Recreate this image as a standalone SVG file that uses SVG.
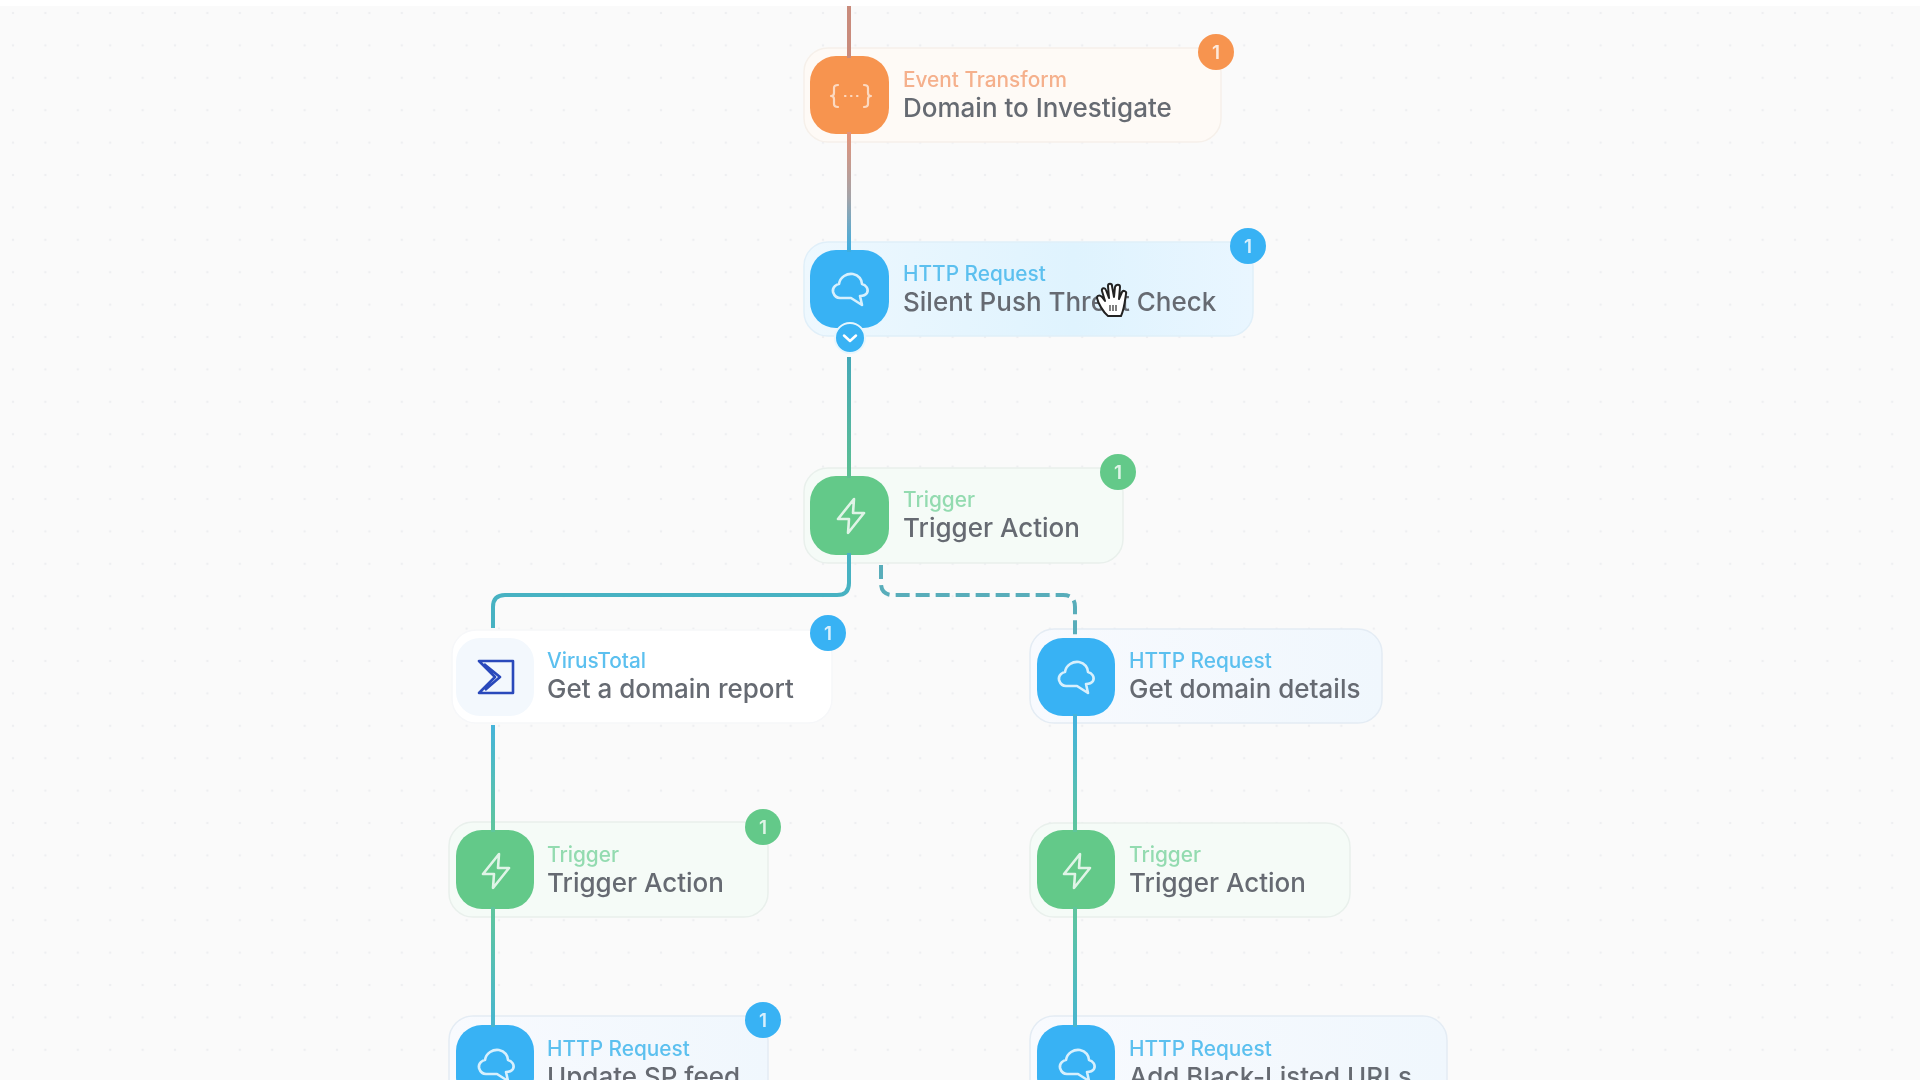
<svg xmlns="http://www.w3.org/2000/svg" xmlns:xlink="http://www.w3.org/1999/xlink" width="1920" height="1080" viewBox="0 0 1920 1080">
<defs>
<style>
.card{stroke-width:1.5}
.ic{stroke:#fff;fill:none;stroke-width:2.6;stroke-linejoin:round;stroke-linecap:round;opacity:.8}
.lbl{font:500 20.8px Inter,"Liberation Sans",sans-serif}
.ttl{font:500 26px Inter,"Liberation Sans",sans-serif;fill:#666b72}
.bt{font:600 19px Inter,"Liberation Sans",sans-serif;fill:#fff;text-anchor:middle;opacity:.8}
.ln{fill:none;stroke-width:4;stroke-linecap:butt}
.blue{fill:#38b2f4}.green{fill:#63c989}.orange{fill:#f7944f}
.lb{fill:#5cc0ef}.lg{fill:#93dbb0}.lo{fill:#f5b08c}
.cb{fill:#f2f9fe;stroke:#e6eff6}.cg{fill:#f5fbf7;stroke:#e9f0ec}.co{fill:#fefaf6;stroke:#f6f0ea}
</style>
<pattern id="dots" x="13" y="13" width="32.4" height="32.4" patternUnits="userSpaceOnUse"><circle cx="0" cy="0" r="1.3" fill="#eeeff1"/><circle cx="32.4" cy="0" r="1.3" fill="#eeeff1"/><circle cx="0" cy="32.4" r="1.3" fill="#eeeff1"/><circle cx="32.4" cy="32.4" r="1.3" fill="#eeeff1"/></pattern>
<linearGradient id="g1" gradientUnits="userSpaceOnUse" x1="0" y1="134" x2="0" y2="250"><stop offset="0" stop-color="#e2937a"/><stop offset=".55" stop-color="#a3a3a8"/><stop offset="1" stop-color="#3eaee0"/></linearGradient>
<linearGradient id="g2" gradientUnits="userSpaceOnUse" x1="0" y1="356" x2="0" y2="476"><stop offset="0" stop-color="#44a8b8"/><stop offset="1" stop-color="#5cbf92"/></linearGradient>
<linearGradient id="g3" gradientUnits="userSpaceOnUse" x1="0" y1="720" x2="0" y2="832"><stop offset="0" stop-color="#44b3dc"/><stop offset="1" stop-color="#5fc69c"/></linearGradient>
<linearGradient id="g4" gradientUnits="userSpaceOnUse" x1="0" y1="905" x2="0" y2="1026"><stop offset="0" stop-color="#5fc69c"/><stop offset="1" stop-color="#48b6cf"/></linearGradient>
<linearGradient id="c2" x1="0" y1="0" x2="1" y2="0"><stop offset="0" stop-color="#eef8fe"/><stop offset=".6" stop-color="#dff3fe"/><stop offset="1" stop-color="#e9f6ff"/></linearGradient>
<linearGradient id="c3" x1="0" y1="0" x2="1" y2="0"><stop offset="0" stop-color="#f8fafe"/><stop offset="1" stop-color="#f0f7fd"/></linearGradient>
<g id="cloud"><path class="ic" d="M-17,3C-18,-2-13,-5-11,-5C-10,-12-3,-16 3,-15C9,-14 12,-9 12,-5C16,-4 19,0 17,4C15,7 12,7 10,7L12,16L1,9L-10,9C-14,9-16,6-17,3Z"/></g>
<g id="bolt"><path class="ic" d="M3,-17L-13,3L-2,3L-3,17L13,-3L2,-3Z"/></g>
<filter id="soft" x="0" y="0" width="100%" height="100%"><feGaussianBlur stdDeviation="0.7"/></filter>
</defs>
<g filter="url(#soft)">
<rect width="1920" height="1080" fill="#fafafa"/>
<rect width="1920" height="1080" fill="url(#dots)"/>
<rect width="1920" height="6" fill="#ffffff"/>
<g id="node-event-transform">
<rect class="card co" x="804" y="48" width="417" height="94" rx="24"/>
<rect class="orange" x="810" y="56" width="79" height="78" rx="26"/>
<g class="ic" style="stroke-width:2.2;opacity:.65"><path d="M838,85Q834,85 834,88V93Q834,96 831,96Q834,96 834,99V104Q834,107 838,107"/><path d="M864,85Q868,85 868,88V93Q868,96 871,96Q868,96 868,99V104Q868,107 864,107"/><path d="M845,96h.5M851,96h.5M857,96h.5"/></g>
<text class="lbl lo" x="903" y="87">Event Transform</text>
<text class="ttl" x="903" y="117">Domain to Investigate</text>
<circle class="orange" cx="1216" cy="52" r="18"/><text class="bt" x="1216" y="59">1</text>
</g>
<g id="node-silent-push">
<rect class="card" x="804" y="242" width="449" height="94" rx="24" fill="url(#c2)" stroke="#e0eff9"/>
<rect class="blue" x="810" y="250" width="79" height="78" rx="26"/>
<use href="#cloud" x="850" y="289"/>
<text class="lbl lb" x="903" y="281">HTTP Request</text>
<text class="ttl" x="903" y="311">Silent Push Threat Check</text>
<circle class="blue" cx="1248" cy="246" r="18"/><text class="bt" x="1248" y="253">1</text>
</g>
<g id="node-trigger-1">
<rect class="card cg" x="804" y="468" width="319" height="95" rx="24"/>
<rect class="green" x="810" y="476" width="79" height="79" rx="26"/>
<use href="#bolt" x="851" y="516"/>
<text class="lbl lg" x="903" y="507">Trigger</text>
<text class="ttl" x="903" y="537">Trigger Action</text>
<circle class="green" cx="1118" cy="472" r="18"/><text class="bt" x="1118" y="479">1</text>
</g>
<g id="node-virustotal">
<rect class="card" x="452" y="630" width="380" height="93" rx="24" fill="#fff" stroke="#f6f7f9"/>
<rect x="456" y="638" width="78" height="78" rx="24" fill="#f3f8fd"/>
<path d="M479,661H513V693H479L495,677ZM484,664L500,677L485,690" fill="none" stroke="#2a49bb" stroke-width="2.600" stroke-linejoin="round"/>
<text class="lbl lb" x="547" y="668">VirusTotal</text>
<text class="ttl" x="547" y="698">Get a domain report</text>
<circle class="blue" cx="828" cy="633" r="18"/><text class="bt" x="828" y="640">1</text>
</g>
<g id="node-get-domain">
<rect class="card" x="1030" y="629" width="352" height="94" rx="24" fill="url(#c3)" stroke="#e4ecf4"/>
<rect class="blue" x="1037" y="638" width="78" height="78" rx="26"/>
<use href="#cloud" x="1076" y="677"/>
<text class="lbl lb" x="1129" y="668">HTTP Request</text>
<text class="ttl" x="1129" y="698">Get domain details</text>
</g>
<g id="node-trigger-2">
<rect class="card cg" x="449" y="822" width="319" height="95" rx="24"/>
<rect class="green" x="456" y="830" width="78" height="79" rx="26"/>
<use href="#bolt" x="496" y="871"/>
<text class="lbl lg" x="547" y="862">Trigger</text>
<text class="ttl" x="547" y="892">Trigger Action</text>
<circle class="green" cx="763" cy="827" r="18"/><text class="bt" x="763" y="834">1</text>
</g>
<g id="node-trigger-3">
<rect class="card cg" x="1030" y="823" width="320" height="94" rx="24"/>
<rect class="green" x="1037" y="830" width="78" height="79" rx="26"/>
<use href="#bolt" x="1077" y="871"/>
<text class="lbl lg" x="1129" y="862">Trigger</text>
<text class="ttl" x="1129" y="892">Trigger Action</text>
</g>
<g id="node-update-sp">
<rect class="card" x="449" y="1016" width="319" height="94" rx="24" fill="url(#c3)" stroke="#e4ecf4"/>
<rect class="blue" x="456" y="1025" width="78" height="79" rx="26"/>
<use href="#cloud" x="496" y="1065"/>
<text class="lbl lb" x="547" y="1056">HTTP Request</text>
<text class="ttl" x="547" y="1086">Update SP feed</text>
<circle class="blue" cx="763" cy="1020" r="18"/><text class="bt" x="763" y="1027">1</text>
</g>
<g id="node-blacklist">
<rect class="card" x="1030" y="1016" width="417" height="94" rx="24" fill="url(#c3)" stroke="#e4ecf4"/>
<rect class="blue" x="1037" y="1025" width="78" height="79" rx="26"/>
<use href="#cloud" x="1077" y="1065"/>
<text class="lbl lb" x="1129" y="1056">HTTP Request</text>
<text class="ttl" x="1129" y="1086">Add Black-Listed URLs</text>
</g>
<g id="connectors">
<path class="ln" d="M849,6V58" stroke="#c98b7c"/>
<path class="ln" d="M849,132V252" stroke="url(#g1)"/>
<path class="ln" d="M849,357V478" stroke="url(#g2)"/>
<path class="ln" d="M849,553V583Q849,595 837,595H505Q493,595 493,607V628" stroke="#47b2c2"/>
<path class="ln" d="M881,565V583Q881,595 893,595H1063Q1075,595 1075,607V640" stroke="#58adba" stroke-width="3.500" stroke-dasharray="14 6"/>
<path class="ln" d="M493,725V832" stroke="url(#g3)"/>
<path class="ln" d="M493,907V1027" stroke="url(#g4)"/>
<path class="ln" d="M1075,714V832" stroke="url(#g3)"/>
<path class="ln" d="M1075,907V1027" stroke="url(#g4)"/>
</g>
<g id="chevron">
<circle class="blue" cx="850" cy="338" r="15" stroke="#e6f6fe" stroke-width="2"/>
<path d="M844,335.500L850,341L856,335.500" fill="none" stroke="#fff" stroke-width="2.500" stroke-linecap="round" stroke-linejoin="round"/>
</g>
<g id="cursor">
<path d="M1108,316C1103,312 1098,303 1097,298C1097,295 1100,295 1102,297L1105,301L1102,291C1101,288 1105,287 1106,290L1109,298L1108,286C1108,283 1112,283 1112,286L1114,297L1115,287C1116,284 1120,284 1120,287L1119,299L1122,292C1123,290 1127,291 1126,294C1125,301 1124,310 1121,316Z" fill="#fff" stroke="#222" stroke-width="2" stroke-linejoin="round"/>
<path d="M1110,305v6M1113,305v6M1116,305v6" stroke="#555" stroke-width="1.500"/>
</g>
</g>
</svg>
